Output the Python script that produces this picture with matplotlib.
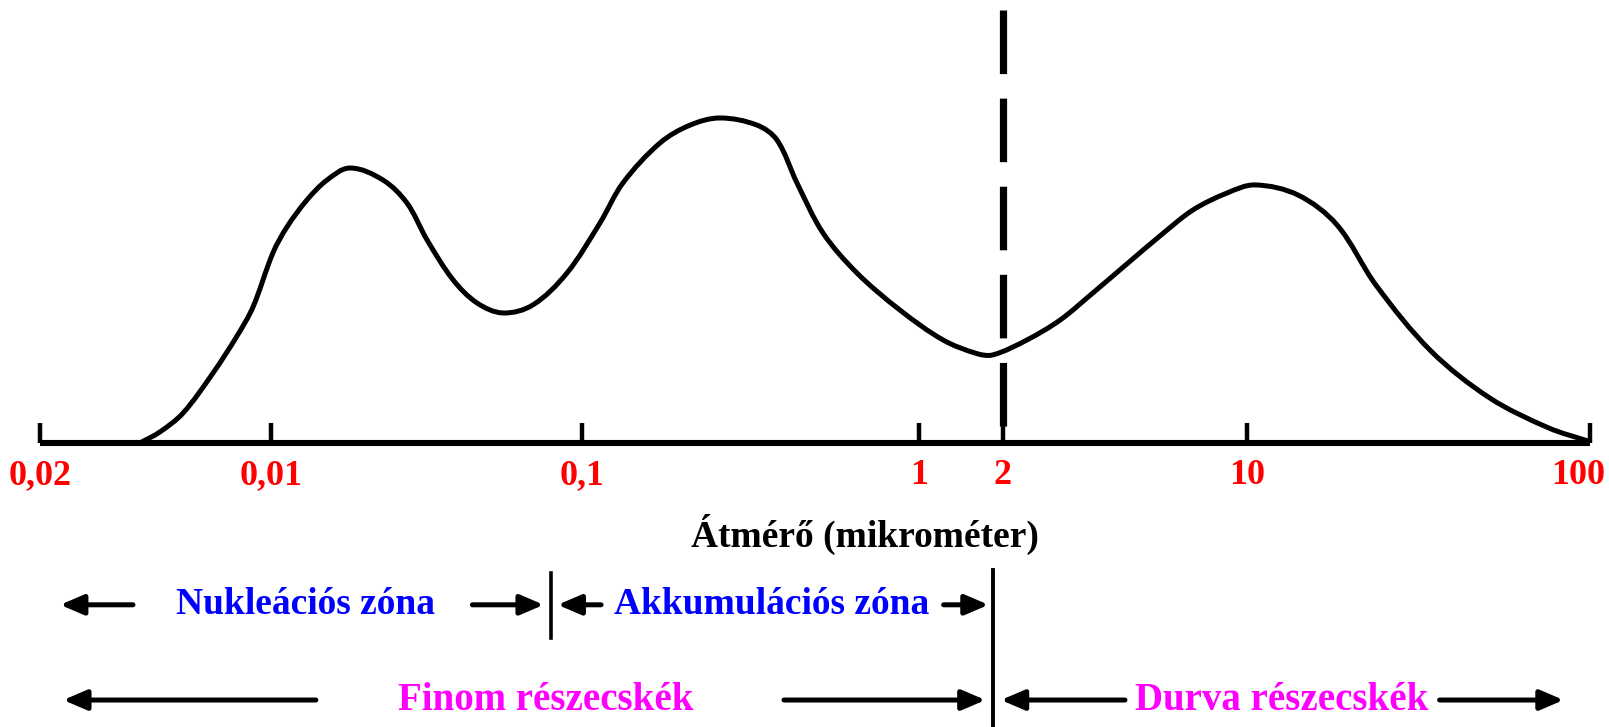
import numpy as np
import matplotlib.pyplot as plt
from matplotlib.patches import FancyArrowPatch, PathPatch
from matplotlib.path import Path

# particle size distribution, x = position along the size axis (0..100), y = relative number
curve_x = [6.45, 7.74, 9.23, 11.16, 12.71, 13.74, 15.03, 15.94, 17.23, 18.52, 20.0,
           22.13, 23.68, 24.97, 26.65, 28.19, 29.87, 31.81, 34.0, 36.13, 37.61, 40.0,
           41.94, 43.87, 46.26, 47.55, 48.84, 50.52, 52.71, 55.48, 58.26, 60.45, 61.48,
           63.68, 65.81, 67.94, 70.13, 72.26, 74.39, 76.58, 78.39, 81.16, 83.68, 86.19,
           89.74, 93.55, 97.35, 99.87]
curve_y = [0.0, 0.034, 0.092, 0.215, 0.329, 0.418, 0.585, 0.665, 0.748, 0.809, 0.846,
           0.809, 0.738, 0.625, 0.502, 0.431, 0.4, 0.425, 0.523, 0.677, 0.8, 0.923,
           0.978, 1.0, 0.978, 0.932, 0.8, 0.646, 0.523, 0.409, 0.317, 0.275, 0.271,
           0.317, 0.378, 0.462, 0.551, 0.637, 0.717, 0.769, 0.794, 0.763, 0.671, 0.486,
           0.283, 0.138, 0.046, 0.006]

tick_pos = [0, 14.9, 35.0, 56.7, 62.1, 77.9, 100]
tick_labels = ["0,02", "0,01", "0,1", "1", "2", "10", "100"]

boundary_2um = 62.1      # dashed line at 2 micrometer
zone_split = 32.97       # nucleation / accumulation boundary
coarse_split = 61.48     # fine / coarse boundary

serif = "Liberation Serif"

fig = plt.figure(figsize=(16.09, 7.27), dpi=100)
ax = fig.add_axes([0, 0, 1, 1])
ax.set_xlim(-2.58, 101.23)
ax.set_ylim(-0.874, 1.363)
ax.axis("off")

# size axis
ax.plot([0, 100], [0, 0], color="black", lw=4.4, solid_capstyle="butt", clip_on=False)
for p in tick_pos:
    ax.plot([p, p], [0, 0.062], color="black", lw=3.2, solid_capstyle="butt")


def smooth_path(xs, ys, aspect=(15.5, 325.0)):
    # cubic bezier through the points; tangents follow neighbouring points,
    # handle length a third of each segment (measured in screen-like units)
    sx, sy = aspect
    pts = np.column_stack([np.asarray(xs) * sx, np.asarray(ys) * sy])
    n = len(pts)
    tang = np.zeros_like(pts)
    for i in range(n):
        d = pts[min(i + 1, n - 1)] - pts[max(i - 1, 0)]
        tang[i] = d / np.hypot(*d)
    verts = [pts[0]]
    codes = [Path.MOVETO]
    for i in range(n - 1):
        seg = np.hypot(*(pts[i + 1] - pts[i])) / 3
        verts += [pts[i] + tang[i] * seg, pts[i + 1] - tang[i + 1] * seg, pts[i + 1]]
        codes += [Path.CURVE4] * 3
    verts = np.array(verts) / [sx, sy]
    return Path(verts, codes)


# distribution curve
ax.add_patch(PathPatch(smooth_path(curve_x, curve_y), fill=False, color="black",
                       lw=3.6, joinstyle="round", capstyle="round", clip_on=False))

# 2 micrometer dashed line
ax.plot([boundary_2um, boundary_2um], [1.332, 0], color="black", lw=5.2,
        dashes=(8.8, 3.4), dash_capstyle="butt")

# tick labels
for p, lab in zip(tick_pos, tick_labels):
    if lab == "100":
        ax.text(100.95, -0.10, lab, ha="right", va="center", color="red",
                fontsize=26, fontweight="bold", family=serif)
    else:
        ax.text(p, -0.10, lab, ha="center", va="center", color="red",
                fontsize=26, fontweight="bold", family=serif)

ax.text(53.2, -0.28, "Átmérő (mikrométer)", ha="center", va="center", color="black",
        fontsize=27, fontweight="bold", family=serif)


def arrow(x0, x1, y):
    ax.add_patch(FancyArrowPatch((x0, y), (x1, y),
                                 arrowstyle="-|>,head_length=0.7,head_width=0.3",
                                 mutation_scale=20, lw=3.6, color="black",
                                 shrinkA=0, shrinkB=0))


# zone row
row1 = -0.498
arrow(6.0, 1.3, row1)
arrow(27.9, 32.5, row1)
arrow(36.2, 33.4, row1)
arrow(58.3, 61.2, row1)
ax.plot([zone_split, zone_split], [-0.40, -0.60], color="black", lw=2.6)
ax.text(17.1, row1, "Nukleációs zóna", ha="center", va="center", color="blue",
        fontsize=27, fontweight="bold", family=serif)
ax.text(47.2, row1, "Akkumulációs zóna", ha="center", va="center", color="blue",
        fontsize=27, fontweight="bold", family=serif)

# fine / coarse row
row2 = -0.791
arrow(17.8, 1.5, row2)
arrow(48.0, 61.0, row2)
arrow(70.0, 62.0, row2)
arrow(90.3, 98.3, row2)
ax.plot([coarse_split, coarse_split], [-0.391, -0.874], color="black", lw=2.8)
ax.text(32.6, row2, "Finom részecskék", ha="center", va="center", color="#ff00ff",
        fontsize=28, fontweight="bold", family=serif)
ax.text(80.1, row2, "Durva részecskék", ha="center", va="center", color="#ff00ff",
        fontsize=28, fontweight="bold", family=serif)

fig.savefig("out.png", dpi=100)
